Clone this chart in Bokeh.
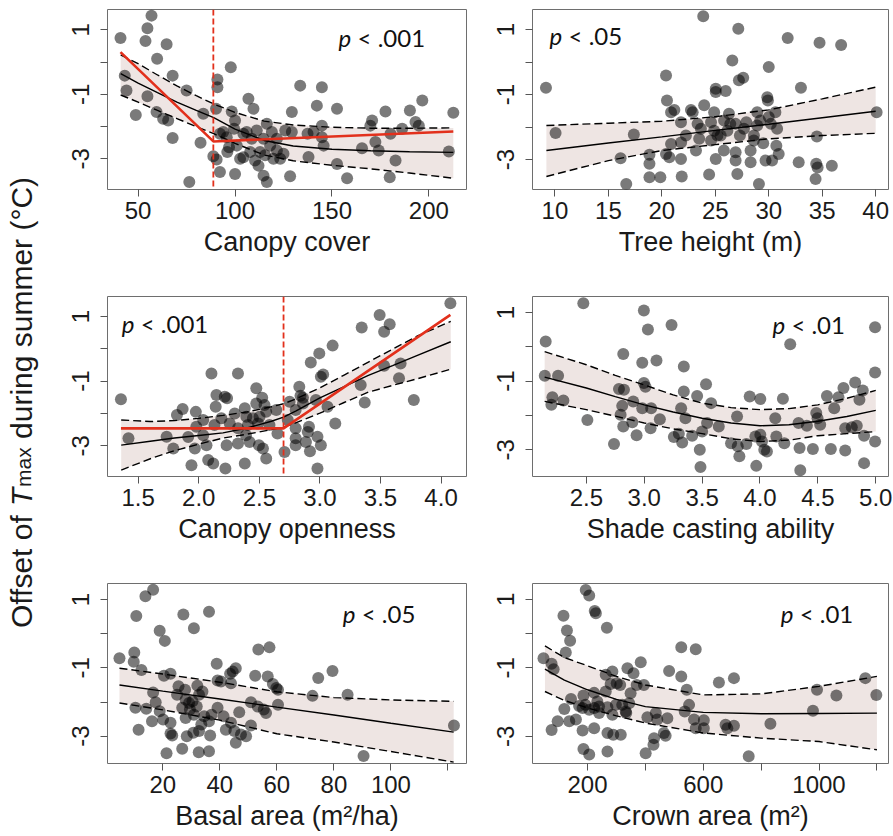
import math
from bokeh.plotting import figure
from bokeh.layouts import row, column
from bokeh.models import Range1d, FixedTicker, Label, Span
from bokeh.core.properties import value
from bokeh.embed import file_html
from bokeh.resources import INLINE

# ---------------- data ----------------
Y_TICKS = [-3, -2, -1, 0, 1]
Y_LABELS = ["-3", "", "-1", "", "1"]

# Panel 1: canopy cover
cover_x = [56.9, 54.8, 40.9, 53.8, 64.7, 59.8, 67.8, 43.1, 44.0, 54.8, 75.0, 48.8, 59.5, 62.9, 65.5, 67.8, 82.2, 76.4,
           83.6, 90.9, 90.9, 97.8, 90.2, 88.8, 90.5, 92.2, 93.9, 96.0, 98.3, 100.0, 100.0, 100.9, 102.6, 104.3, 106.9,
           109.5, 107.8, 110.3, 112.1, 114.7, 116.4, 116.4, 115.5, 118.1, 119.8, 121.6, 123.3, 125.0, 128.4, 129.3,
           129.3, 133.6, 137.4, 137.9, 142.2, 144.8, 144.8, 145.7, 152.6, 152.6, 157.8, 165.5, 169.8, 170.7, 172.4,
           174.1, 177.6, 180.2, 179.8, 182.8, 186.2, 190.2, 193.1, 194.8, 196.6, 212.6, 210.3, 92.2, 96.9, 99.5, 106.0,
           108.6, 111.2, 114.7, 119.0, 121.6, 125.9, 140.5, 144.8, 95.7, 104.3, 112.9]
cover_y = [1.44, 1.05, 0.75, 0.65, 0.55, 0.10, -0.42, -0.42, -0.88, -1.06, -0.88, -1.64, -1.55, -1.76, -1.81, -2.35, -2.50,
           -3.72, -1.60, -0.54, -0.78, -0.16, -1.45, -2.92, -3.02, -3.41, -2.17, -2.79, -1.53, -1.81, -3.47, -2.59, -3.00,
           -2.22, -1.14, -1.45, -2.79, -3.05, -3.21, -3.52, -3.72, -1.91, -2.89, -2.59, -3.00, -2.74, -3.00, -2.84, -3.54,
           -1.55, -2.17, -0.73, -2.22, -2.94, -1.35, -0.78, -1.97, -2.59, -1.45, -3.16, -3.60, -2.67, -1.97, -1.81, -2.48,
           -2.74, -1.53, -2.22, -3.57, -3.05, -2.07, -1.50, -1.86, -1.97, -1.19, -1.57, -2.77, -2.22, -2.64, -2.07, -2.17,
           -2.38, -2.12, -2.38, -2.17, -2.38, -2.12, -2.17, -2.33, -2.33, -2.95, -2.79]
cover_fit_x = [41, 50, 60, 70, 80, 89, 100, 115, 130, 150, 170, 190, 212.6]
cover_fit = [-0.36, -0.65, -0.95, -1.24, -1.50, -1.72, -2.08, -2.43, -2.60, -2.70, -2.75, -2.78, -2.80]
cover_hi = [0.22, -0.05, -0.40, -0.74, -1.04, -1.30, -1.56, -1.83, -1.95, -2.02, -2.05, -2.05, -2.04]
cover_lo = [-1.02, -1.24, -1.50, -1.75, -2.00, -2.22, -2.52, -2.88, -3.06, -3.20, -3.31, -3.44, -3.60]
cover_seg_x = [40.9, 88.8, 212.6]
cover_seg_y = [0.31, -2.46, -2.15]
cover_break = 88.8
cover_ticks = [50, 100, 150, 200]
cover_labels = ["50", "100", "150", "200"]

# Panel 2: tree height
height_x = [9.16, 10.06, 16.14, 16.67, 17.38, 18.84, 18.84, 18.84, 19.86, 20.39, 20.48, 20.86, 21.17, 20.39, 20.70, 20.86,
            21.79, 21.86, 21.79, 22.72, 22.88, 22.25, 23.19, 23.34, 23.49, 23.87, 23.96, 24.42, 25.04, 25.04, 24.89,
            24.89, 25.04, 25.20, 25.97, 25.82, 26.13, 26.28, 26.59, 26.90, 26.90, 27.06, 27.15, 27.21, 27.61, 26.90,
            27.68, 28.30, 28.30, 28.61, 28.92, 29.08, 28.92, 29.48, 29.70, 29.86, 29.92, 30.0, 30.0, 30.31, 30.62, 30.78,
            30.71, 30.93, 31.77, 32.80, 33.01, 34.50, 34.44, 34.57, 34.38, 34.75, 35.90, 36.77, 40.09, 23.65, 24.6, 25.5,
            26.4, 27.3, 27.9, 29.2, 30.2, 28.6, 25.8, 24.6, 21.8]
height_y = [-0.79, -2.18, -2.96, -3.75, -2.23, -2.85, -3.13, -3.54, -3.54, -0.41, -1.18, -1.54, -1.47, -2.83, -2.93, -2.52,
            -2.98, -3.52, -1.85, -1.47, -1.54, -2.26, -2.72, -1.90, -2.36, 1.41, -1.33, -3.46, -0.82, -0.92, -1.54, -2.11,
            -2.98, -2.26, -0.89, -1.80, -2.11, -1.59, 0.05, -2.77, -3.03, -3.44, 1.03, -0.56, -0.48, -1.90, -2.05, -2.72,
            -3.08, -2.26, -1.54, -3.75, -1.95, -2.50, -3.03, -1.08, -1.18, -0.15, -1.69, -3.03, -1.54, -2.05, -2.57, -2.83,
            0.74, -3.08, -0.79, -2.29, -3.13, -3.24, -3.60, 0.60, -3.19, 0.53, -1.54, -2.05, -1.85, -2.26, -1.90, -2.26,
            -1.85, -1.80, -1.90, -2.41, -2.72, -2.41, -2.47]
height_fit_x = [9.2, 15, 20, 25, 30, 35, 40]
height_fit = [-2.72, -2.49, -2.30, -2.10, -1.91, -1.71, -1.51]
height_hi = [-1.95, -1.88, -1.82, -1.68, -1.47, -1.13, -0.77]
height_lo = [-3.52, -3.03, -2.72, -2.54, -2.36, -2.26, -2.19]
height_ticks = [10, 15, 20, 25, 30, 35, 40]
height_labels = ["10", "15", "20", "25", "30", "35", "40"]

# Panel 3: canopy openness
open_x = [1.358, 1.42, 1.735, 1.79, 1.82, 1.867, 1.913, 1.94, 1.976, 1.98, 1.968, 2.037, 2.064, 2.078, 2.105, 2.13, 2.12,
          2.146, 2.14, 2.187, 2.215, 2.234, 2.22, 2.256, 2.23, 2.324, 2.324, 2.38, 2.38, 2.393, 2.406, 2.42, 2.475,
          2.475, 2.502, 2.497, 2.524, 2.543, 2.53, 2.557, 2.557, 2.64, 2.65, 2.708, 2.735, 2.80, 2.80, 2.80, 2.83, 2.84,
          2.86, 2.885, 2.90, 2.91, 2.918, 2.925, 2.967, 2.98, 2.98, 2.995, 3.008, 3.008, 3.027, 3.063, 3.105, 3.127,
          3.345, 3.337, 3.37, 3.493, 3.53, 3.576, 3.53, 3.653, 3.666, 3.775, 4.077, 2.447, 2.324, 2.584, 2.037, 2.49,
          2.75, 2.86, 2.80, 2.39, 2.297]
open_y = [-1.56, -2.77, -2.72, -3.08, -2.05, -1.86, -2.73, -3.60, -1.95, -2.41, -3.08, -2.20, -2.98, -3.44, -0.76, -2.36,
          -3.55, -1.43, -1.79, -2.15, -1.48, -1.53, -3.70, -2.31, -2.98, -0.76, -2.93, -1.84, -3.55, -2.10, -2.36, -2.88,
          -1.22, -1.69, -2.10, -2.98, -1.51, -1.74, -3.08, -3.39, -1.95, -1.89, -2.62, -3.19, -2.20, -1.89, -2.77, -2.98,
          -1.17, -1.45, -1.51, -2.88, -2.57, -2.41, -3.17, -0.42, -1.58, -2.72, -3.70, -0.14, -2.98, -0.86, -0.79, -1.79,
          0.10, -2.31, 0.66, -1.12, -1.66, 1.05, 0.53, 0.76, -0.52, -0.91, -0.45, -1.58, 1.41, -2.15, -2.46, -2.36,
          -2.67, -2.31, -1.64, -1.69, -2.46, -2.67, -2.00]
open_fit_x = [1.36, 1.6, 1.8, 2.0, 2.2, 2.4, 2.6, 2.7, 2.8, 3.0, 3.2, 3.4, 3.6, 3.8, 4.08]
open_fit = [-2.98, -2.86, -2.76, -2.68, -2.60, -2.45, -2.24, -2.11, -1.93, -1.52, -1.17, -0.82, -0.52, -0.21, 0.22]
open_hi = [-2.20, -2.25, -2.22, -2.15, -2.06, -1.95, -1.79, -1.70, -1.55, -1.21, -0.81, -0.41, -0.01, 0.39, 0.85]
open_lo = [-3.75, -3.40, -3.15, -2.95, -2.76, -2.64, -2.50, -2.42, -2.29, -1.99, -1.66, -1.34, -1.13, -0.93, -0.63]
open_seg_x = [1.358, 2.70, 4.077]
open_seg_y = [-2.46, -2.46, 1.05]
open_break = 2.70
open_ticks = [1.5, 2.0, 2.5, 3.0, 3.5, 4.0]
open_labels = ["1.5", "2.0", "2.5", "3.0", "3.5", "4.0"]

# Panel 4: shade casting ability
shade_x = [2.149, 2.141, 2.256, 2.207, 2.198, 2.302, 2.474, 2.509, 2.739, 2.819, 2.782, 2.825, 2.81, 2.796, 2.819, 2.905,
           2.897, 2.934, 2.997, 3.032, 2.983, 2.997, 3.011, 2.983, 3.06, 3.055, 3.106, 3.135, 3.236, 3.256, 3.299, 3.328,
           3.342, 3.342, 3.319, 3.356, 3.414, 3.457, 3.48, 3.486, 3.5, 3.534, 3.543, 3.578, 3.644, 3.75, 3.802, 3.808,
           3.822, 3.882, 3.911, 3.968, 4.003, 4.003, 4.017, 4.037, 4.06, 4.132, 4.141, 4.198, 4.21, 4.261, 4.333, 4.342,
           4.348, 4.405, 4.457, 4.486, 4.497, 4.52, 4.578, 4.612, 4.641, 4.678, 4.721, 4.736, 4.736, 4.822, 4.836, 4.859,
           4.888, 4.899, 4.899, 4.994, 4.994, 4.994, 4.793, 3.96]
shade_y = [0.16, -0.84, -0.84, -1.47, -1.69, -1.56, 1.27, -2.13, -2.83, -0.21, -1.23, -1.25, -1.72, -1.98, -2.32, -1.59,
           -2.20, -2.58, 1.06, 0.51, -0.46, -1.05, -1.16, -1.79, -1.79, -2.37, -0.40, -2.11, 0.64, -2.63, -2.53, -2.79,
           -0.57, -1.30, -1.79, -2.08, -2.59, -1.43, -3.00, -3.50, -2.47, -1.09, -2.22, -1.64, -2.32, -2.81, -2.03, -2.90,
           -3.19, -2.83, -1.45, -3.47, -1.52, -2.56, -2.76, -3.00, -3.05, -2.08, -2.61, -1.51, -2.81, 0.08, -2.22, -2.95,
           -3.60, -2.30, -2.98, -1.93, -2.08, -2.27, -1.43, -2.98, -1.79, -1.47, -1.20, -3.02, -2.37, -1.04, -2.30, -1.54,
           -1.27, -2.59, -3.39, 0.57, -0.75, -2.76, -2.34, -2.61]
shade_fit_x = [2.14, 2.5, 2.75, 3.0, 3.25, 3.5, 3.75, 4.0, 4.25, 4.5, 4.75, 5.0]
shade_fit = [-0.88, -1.20, -1.45, -1.69, -1.90, -2.08, -2.22, -2.30, -2.27, -2.17, -2.03, -1.85]
shade_hi = [-0.14, -0.52, -0.83, -1.11, -1.40, -1.64, -1.77, -1.83, -1.80, -1.69, -1.50, -1.27]
shade_lo = [-1.59, -1.83, -2.02, -2.22, -2.39, -2.53, -2.68, -2.76, -2.72, -2.59, -2.53, -2.47]
shade_ticks = [2.5, 3.0, 3.5, 4.0, 4.5, 5.0]
shade_labels = ["2.5", "3.0", "3.5", "4.0", "4.5", "5.0"]

# Panel 5: basal area
basal_x = [16.6, 13.9, 10.7, 18.9, 20.7, 4.8, 10.0, 9.8, 12.5, 27.2, 30.9, 36.2, 20.4, 22.7, 16.6, 17.5, 10.4, 14.2, 16.2,
           18.9, 20.1, 11.5, 22.7, 22.7, 23.3, 21.3, 26.8, 25.5, 25.0, 27.8, 28.0, 29.2, 30.4, 32.1, 33.9, 31.9, 28.0,
           30.9, 28.4, 30.7, 32.7, 32.6, 33.5, 36.2, 36.6, 36.2, 37.1, 38.9, 39.2, 40.4, 39.2, 41.3, 42.1, 43.6, 44.5,
           45.6, 43.9, 43.9, 45.1, 45.6, 46.8, 47.4, 49.2, 50.9, 50.9, 52.4, 53.5, 53.3, 55.4, 56.2, 57.4, 56.8, 58.6,
           59.8, 60.4, 60.4, 72.5, 74.5, 79.5, 84.8, 90.4, 122.1, 29.5, 32.7, 26.8, 34.5]
basal_y = [1.29, 1.10, 0.52, 0.09, -0.21, -0.72, -0.55, -0.82, -1.06, 0.56, 0.16, 0.64, -1.23, -1.17, -1.72, -2.01, -2.17,
           -2.20, -2.56, -2.27, -2.51, -2.81, -2.61, -2.92, -2.98, -3.50, -3.37, -1.54, -1.79, -1.64, -1.93, -2.03, -1.98,
           -1.52, -1.69, -2.13, -2.47, -2.37, -3.00, -2.90, -2.85, -3.47, -2.66, -3.44, -2.98, -2.56, -2.37, -0.88, -1.37,
           -1.40, -2.17, -2.42, -2.81, -1.17, -1.11, -1.01, -1.45, -2.61, -2.85, -3.19, -2.30, -2.95, -3.00, -2.69, -2.01,
           -1.23, -0.46, -2.13, -2.22, -2.32, -0.40, -1.25, -1.47, -1.59, -1.64, -2.08, -1.82, -1.30, -1.09, -1.79, -3.58,
           -2.69, -2.22, -1.79, -2.17, -2.42]
basal_fit_x = [4.8, 20, 40, 60, 80, 100, 122]
basal_fit = [-1.50, -1.68, -1.91, -2.15, -2.38, -2.62, -2.88]
basal_hi = [-1.01, -1.18, -1.42, -1.70, -1.87, -1.94, -1.98]
basal_lo = [-2.03, -2.23, -2.53, -2.93, -3.17, -3.45, -3.76]
basal_ticks = [20, 40, 60, 80, 100, 120]
basal_labels = ["20", "40", "60", "80", "100", ""]

# Panel 6: crown area
crown_x = [194, 206, 225, 229, 117, 267, 129, 140, 125, 48, 76, 83, 143, 120, 97, 76, 137, 160, 183, 186, 193, 206, 223,
           234, 223, 240, 186, 206, 269, 269, 263, 263, 286, 280, 301, 313, 286, 269, 289, 315, 298, 320, 332, 334, 338,
           359, 349, 344, 384, 370, 395, 401, 407, 428, 430, 436, 441, 464, 470, 476, 482, 524, 524, 543, 551, 536, 574,
           568, 574, 602, 602, 654, 706, 677, 683, 706, 757, 832, 979, 993, 1060, 1160, 1198, 171, 223, 183, 240]
crown_y = [1.27, 1.11, 0.66, 0.59, 0.52, 0.17, 0.09, -0.21, -0.55, -0.72, -0.88, -1.04, -1.91, -2.20, -2.56, -2.81, -2.56,
           -2.51, -2.83, -1.81, -2.08, -2.22, -2.17, -1.98, -2.76, -2.32, -3.37, -3.53, -3.44, -2.15, -1.69, -1.20, -1.11,
           -1.47, -1.45, -1.50, -2.37, -2.90, -2.95, -2.95, -2.08, -2.08, -2.27, -2.32, -1.01, -1.16, -1.74, -2.03, -0.84,
           -1.50, -1.50, -3.49, -2.44, -3.24, -3.05, -2.32, -2.51, -2.90, -2.98, -2.47, -1.09, -0.40, -1.25, -1.64, -2.08,
           -2.27, -0.46, -2.51, -2.76, -2.53, -2.76, -1.43, -1.30, -2.66, -2.76, -2.69, -3.58, -2.63, -2.25, -1.64, -1.81,
           -1.30, -1.79, -2.11, -1.73, -2.17, -2.13]
crown_fit_x = [53, 120, 200, 300, 400, 600, 800, 1000, 1200]
crown_fit = [-1.04, -1.36, -1.64, -1.92, -2.13, -2.30, -2.34, -2.33, -2.32]
crown_hi = [-0.36, -0.70, -0.94, -1.25, -1.50, -1.79, -1.76, -1.54, -1.25]
crown_lo = [-1.69, -1.95, -2.17, -2.40, -2.61, -2.90, -3.05, -3.15, -3.39]
crown_ticks = [200, 400, 600, 800, 1000, 1200]
crown_labels = ["200", "", "600", "", "1000", ""]

# ---------------- styling ----------------
AX_FONT = "Liberation Sans"
P_FONT = "Lato"
BAND = "#EEE5E3"
RED = "#E2301C"
FRAME = "#6e6e6e"


def make_panel(width, height, bl, br, bt, bb, xr, yr, xticks, xlabels, title, xs, ys,
               fx, fy, lo, hi, ptext, pxy, seg=None, brk=None):
    p = figure(width=width, height=height, x_range=Range1d(*xr), y_range=Range1d(*yr),
               output_backend="svg", toolbar_location=None, tools="",
               min_border_left=bl, min_border_right=br, min_border_top=bt, min_border_bottom=bb)
    p.grid.visible = False
    p.outline_line_color = FRAME
    p.outline_line_width = 1
    p.xaxis.ticker = FixedTicker(ticks=xticks)
    p.xaxis.major_label_overrides = dict(zip(xticks, xlabels))
    p.yaxis.ticker = FixedTicker(ticks=Y_TICKS)
    p.yaxis.major_label_overrides = dict(zip(Y_TICKS, Y_LABELS))
    for ax in (p.xaxis[0], p.yaxis[0]):
        ax.axis_line_color = None
        ax.major_tick_line_color = "#555555"
        ax.major_tick_out = 7
        ax.major_tick_in = 0
        ax.minor_tick_line_color = None
        ax.major_label_text_font = AX_FONT
        ax.major_label_text_font_size = "24px"
        ax.major_label_text_color = "#1a1a1a"
    p.xaxis.major_label_standoff = 5
    p.yaxis.major_label_standoff = 11
    p.yaxis.major_label_orientation = "vertical"
    p.xaxis.axis_label = title
    p.xaxis.axis_label_text_font = AX_FONT
    p.xaxis.axis_label_text_font_size = "27px"
    p.xaxis.axis_label_text_font_style = "normal"
    p.xaxis.axis_label_text_color = "#1a1a1a"
    p.xaxis.axis_label_standoff = 5

    p.varea(x=fx, y1=lo, y2=hi, fill_color=BAND, fill_alpha=1.0)
    p.scatter(xs, ys, size=12, fill_color="black", fill_alpha=0.52, line_color=None)
    p.line(fx, hi, line_color="black", line_width=1.4, line_dash="8 4")
    p.line(fx, lo, line_color="black", line_width=1.4, line_dash="8 4")
    p.line(fx, fy, line_color="black", line_width=1.4)
    if seg is not None:
        p.line(seg[0], seg[1], line_color=RED, line_width=2.6)
    if brk is not None:
        p.add_layout(Span(location=brk, dimension="height", line_color=RED,
                          line_width=1.8, line_dash="6 3"))
    px, py = pxy
    p.add_layout(Label(x=px, y=py, text="p", text_font=P_FONT, text_font_size="24px",
                       text_font_style="italic", text_baseline="alphabetic", text_color="#111111"))
    p.add_layout(Label(x=px, y=py, x_offset=19, text=ptext, text_font=P_FONT,
                       text_font_size="24px", text_baseline="alphabetic", text_color="#111111"))
    return p


LAB_W = 40
LW, RW = 439, 414
H1, H2, H3 = 286, 286, 264
FR = 180
LB, LR = 67, 13      # left column borders -> frame x 107..466
RB, RR = 53, 5       # right column borders -> frame x 532..888
T1, T2, T3 = 9, 10, 11

p1 = make_panel(LW, H1, LB, LR, T1, H1 - T1 - FR, (34.2, 219.4), (-3.95, 1.63), cover_ticks, cover_labels,
                "Canopy cover", cover_x, cover_y, cover_fit_x, cover_fit, cover_lo, cover_hi,
                "< .001", (153.4, 0.75), seg=(cover_seg_x, cover_seg_y), brk=cover_break)
p2 = make_panel(RW, H1, RB, RR, T1, H1 - T1 - FR, (7.9, 41.2), (-3.92, 1.62), height_ticks, height_labels,
                "Tree height (m)", height_x, height_y, height_fit_x, height_fit, height_lo, height_hi,
                "< .05", (9.5, 0.81))
p3 = make_panel(LW, H2, LB, LR, T2, H2 - T2 - FR, (1.247, 4.21), (-3.95, 1.62), open_ticks, open_labels,
                "Canopy openness", open_x, open_y, open_fit_x, open_fit, open_lo, open_hi,
                "< .001", (1.365, 0.79), seg=(open_seg_x, open_seg_y), brk=open_break)
p4 = make_panel(RW, H2, RB, RR, T2, H2 - T2 - FR, (2.035, 5.11), (-3.78, 1.47), shade_ticks, shade_labels,
                "Shade casting ability", shade_x, shade_y, shade_fit_x, shade_fit, shade_lo, shade_hi,
                "< .01", (4.107, 0.64))
p5 = make_panel(LW, H3, LB, LR, T3, H3 - T3 - FR, (0.6, 126.5), (-3.8, 1.47), basal_ticks, basal_labels,
                "Basal area (m\u00b2/ha)", basal_x, basal_y, basal_fit_x, basal_fit, basal_lo, basal_hi,
                "< .05", (83.1, 0.60))
p6 = make_panel(RW, H3, RB, RR, T3, H3 - T3 - FR, (10, 1240), (-3.79, 1.46), crown_ticks, crown_labels,
                "Crown area (m\u00b2)", crown_x, crown_y, crown_fit_x, crown_fit, crown_lo, crown_hi,
                "< .01", (867.6, 0.58))

# ---- shared y-axis title (rotated, with subscript) ----
TOTAL_H = H1 + H2 + H3
lab = figure(width=LAB_W, height=TOTAL_H, x_range=Range1d(0, LAB_W), y_range=Range1d(0, TOTAL_H),
             output_backend="svg", toolbar_location=None, tools="",
             x_axis_type=None, y_axis_type=None,
             min_border_left=0, min_border_right=0, min_border_top=0, min_border_bottom=0)
lab.grid.visible = False
lab.outline_line_color = None

EM = {"O": .778, "f": .278, "s": .5, "e": .556, "t": .278, " ": .278, "o": .556, "d": .556, "u": .556,
      "r": .333, "i": .222, "n": .556, "g": .556, "m": .833, "(": .333, "\u00b0": .4, "C": .722, ")": .333,
      "T": .611, "a": .556, "x": .5}


def tw(s, size):
    return sum(EM.get(c, .556) for c in s) * size


MAIN = 30
pieces = [("Offset of", MAIN, "normal", 0, 0.278 * MAIN),
          ("T", MAIN, "italic", 0, 1),
          ("max", 21, "normal", 2, 0.278 * MAIN),
          ("during summer (\u00b0C)", MAIN, "normal", 0, 0)]
total = sum(tw(s, sz) + gap for s, sz, _, _, gap in pieces)
center = TOTAL_H - 402
ypos = center - total / 2
base_x = 21
for s, sz, style, dx, gap in pieces:
    lab.text(x=[base_x + dx], y=[ypos], text=[s], angle=math.pi / 2,
             text_font=value(AX_FONT), text_font_size=f"{sz}px", text_font_style=style,
             text_baseline="alphabetic", text_align="left", text_color="#1a1a1a")
    ypos += tw(s, sz) + gap

grid = column(row(p1, p2), row(p3, p4), row(p5, p6))
layout = row(lab, grid)

open("out.html", "w").write(file_html(layout, INLINE))
